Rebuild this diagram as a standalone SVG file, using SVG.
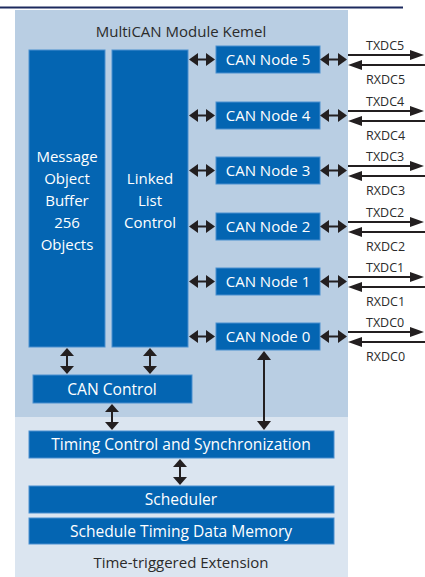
<svg xmlns="http://www.w3.org/2000/svg" width="425" height="577" viewBox="0 0 425 577">
<style>
.box{fill:#0465b2;stroke:#4a8fcf;stroke-width:1}
.wt{fill:#ffffff;font-family:"Open Sans",sans-serif;font-size:15px;text-anchor:middle}
.wl{font-size:15.6px}
.gt{fill:#2b2b2b;font-family:"Open Sans",sans-serif;font-size:15px;text-anchor:middle}
.sig{fill:#2b2b2b;font-family:"Open Sans",sans-serif;font-size:12.5px}
.ln{stroke:#231f20;stroke-width:2;fill:none}
.hd{fill:#231f20}
</style>
<rect x="0" y="0" width="425" height="577" fill="#ffffff"/>
<line x1="0" y1="7.5" x2="403" y2="7.5" stroke="#1c2a5e" stroke-width="2"/>
<rect x="15" y="10" width="333" height="407" fill="#b9cee3"/>
<rect x="15" y="417" width="333" height="160" fill="#dbe5f0"/>
<text class="gt" x="181" y="37">MultiCAN Module Kemel</text>
<text class="gt" x="181" y="568">Time-triggered Extension</text>

<g id="mob"><rect class="box" x="29" y="50" width="76" height="297"/>
<text class="wt" x="67" y="162">Message</text><text class="wt" x="67" y="184">Object</text><text class="wt" x="67" y="206">Buffer</text><text class="wt" x="67" y="228">256</text><text class="wt" x="67" y="250">Objects</text></g>
<g id="llc"><rect class="box" x="112" y="50" width="76" height="297"/>
<text class="wt" x="150" y="184">Linked</text><text class="wt" x="150" y="206">List</text><text class="wt" x="150" y="228">Control</text></g>
<g id="node5"><rect class="box" x="216" y="46" width="104" height="27"/><text class="wt" x="268" y="65">CAN Node 5</text></g>
<g id="node4"><rect class="box" x="216" y="102" width="104" height="27"/><text class="wt" x="268" y="121">CAN Node 4</text></g>
<g id="node3"><rect class="box" x="216" y="157" width="104" height="27"/><text class="wt" x="268" y="176">CAN Node 3</text></g>
<g id="node2"><rect class="box" x="216" y="213" width="104" height="27"/><text class="wt" x="268" y="232">CAN Node 2</text></g>
<g id="node1"><rect class="box" x="216" y="268" width="104" height="27"/><text class="wt" x="268" y="287">CAN Node 1</text></g>
<g id="node0"><rect class="box" x="216" y="323" width="104" height="27"/><text class="wt" x="268" y="342">CAN Node 0</text></g>
<g id="cancontrol"><rect class="box" x="33" y="375" width="159" height="28"/><text class="wt wl" x="112" y="395">CAN Control</text></g>
<g id="timing"><rect class="box" x="29" y="431" width="305" height="27"/><text class="wt wl" x="181" y="450">Timing Control and Synchronization</text></g>
<g id="scheduler"><rect class="box" x="29" y="486" width="305" height="27"/><text class="wt wl" x="181" y="505">Scheduler</text></g>
<g id="stdm"><rect class="box" x="29" y="518" width="305" height="26"/><text class="wt wl" x="181" y="537">Schedule Timing Data Memory</text></g>

<g id="connectors">
<g id="h5"><line class="ln" x1="196" y1="59.5" x2="208" y2="59.5"/><polygon class="hd" points="189,59.5 198,53 198,66"/><polygon class="hd" points="215,59.5 206,53 206,66"/>
<line class="ln" x1="327" y1="59.5" x2="340" y2="59.5"/><polygon class="hd" points="320,59.5 329,53 329,66"/><polygon class="hd" points="347,59.5 338,53 338,66"/></g>
<g id="h4"><line class="ln" x1="196" y1="115.5" x2="208" y2="115.5"/><polygon class="hd" points="189,115.5 198,109 198,122"/><polygon class="hd" points="215,115.5 206,109 206,122"/>
<line class="ln" x1="327" y1="115.5" x2="340" y2="115.5"/><polygon class="hd" points="320,115.5 329,109 329,122"/><polygon class="hd" points="347,115.5 338,109 338,122"/></g>
<g id="h3"><line class="ln" x1="196" y1="170.5" x2="208" y2="170.5"/><polygon class="hd" points="189,170.5 198,164 198,177"/><polygon class="hd" points="215,170.5 206,164 206,177"/>
<line class="ln" x1="327" y1="170.5" x2="340" y2="170.5"/><polygon class="hd" points="320,170.5 329,164 329,177"/><polygon class="hd" points="347,170.5 338,164 338,177"/></g>
<g id="h2"><line class="ln" x1="196" y1="226.5" x2="208" y2="226.5"/><polygon class="hd" points="189,226.5 198,220 198,233"/><polygon class="hd" points="215,226.5 206,220 206,233"/>
<line class="ln" x1="327" y1="226.5" x2="340" y2="226.5"/><polygon class="hd" points="320,226.5 329,220 329,233"/><polygon class="hd" points="347,226.5 338,220 338,233"/></g>
<g id="h1"><line class="ln" x1="196" y1="281.5" x2="208" y2="281.5"/><polygon class="hd" points="189,281.5 198,275 198,288"/><polygon class="hd" points="215,281.5 206,275 206,288"/>
<line class="ln" x1="327" y1="281.5" x2="340" y2="281.5"/><polygon class="hd" points="320,281.5 329,275 329,288"/><polygon class="hd" points="347,281.5 338,275 338,288"/></g>
<g id="h0"><line class="ln" x1="196" y1="336.5" x2="208" y2="336.5"/><polygon class="hd" points="189,336.5 198,330 198,343"/><polygon class="hd" points="215,336.5 206,330 206,343"/>
<line class="ln" x1="327" y1="336.5" x2="340" y2="336.5"/><polygon class="hd" points="320,336.5 329,330 329,343"/><polygon class="hd" points="347,336.5 338,330 338,343"/></g>

<g id="io5"><line class="ln" x1="348" y1="55" x2="412" y2="55"/><polygon class="hd" points="424,55 410,50 410,60"/><line class="ln" x1="360" y1="65" x2="425" y2="65"/><polygon class="hd" points="348,65 362,60 362,70"/></g>
<g id="io4"><line class="ln" x1="348" y1="111" x2="412" y2="111"/><polygon class="hd" points="424,111 410,106 410,116"/><line class="ln" x1="360" y1="121" x2="425" y2="121"/><polygon class="hd" points="348,121 362,116 362,126"/></g>
<g id="io3"><line class="ln" x1="348" y1="166" x2="412" y2="166"/><polygon class="hd" points="424,166 410,161 410,171"/><line class="ln" x1="360" y1="176" x2="425" y2="176"/><polygon class="hd" points="348,176 362,171 362,181"/></g>
<g id="io2"><line class="ln" x1="348" y1="222" x2="412" y2="222"/><polygon class="hd" points="424,222 410,217 410,227"/><line class="ln" x1="360" y1="232" x2="425" y2="232"/><polygon class="hd" points="348,232 362,227 362,237"/></g>
<g id="io1"><line class="ln" x1="348" y1="277" x2="412" y2="277"/><polygon class="hd" points="424,277 410,272 410,282"/><line class="ln" x1="360" y1="287" x2="425" y2="287"/><polygon class="hd" points="348,287 362,282 362,292"/></g>
<g id="io0"><line class="ln" x1="348" y1="332" x2="412" y2="332"/><polygon class="hd" points="424,332 410,327 410,337"/><line class="ln" x1="360" y1="342" x2="425" y2="342"/><polygon class="hd" points="348,342 362,337 362,347"/></g>

<g id="v1"><line class="ln" x1="67" y1="355" x2="67" y2="367"/><polygon class="hd" points="67,348 60,356 74,356"/><polygon class="hd" points="67,374 60,366 74,366"/></g>
<g id="v2"><line class="ln" x1="150" y1="355" x2="150" y2="367"/><polygon class="hd" points="150,348 143,356 157,356"/><polygon class="hd" points="150,374 143,366 157,366"/></g>
<g id="v3"><line class="ln" x1="112" y1="411" x2="112" y2="423"/><polygon class="hd" points="112,404 105,412 119,412"/><polygon class="hd" points="112,430 105,422 119,422"/></g>
<g id="v4"><line class="ln" x1="264" y1="359" x2="264" y2="422"/><polygon class="hd" points="264,351 257,360 271,360"/><polygon class="hd" points="264,430 257,421 271,421"/></g>
<g id="v5"><line class="ln" x1="180" y1="466" x2="180" y2="478"/><polygon class="hd" points="180,459 173,467 187,467"/><polygon class="hd" points="180,485 173,477 187,477"/></g>
</g>

<g id="labels">
<text class="sig" x="366" y="50">TXDC5</text><text class="sig" x="366" y="84">RXDC5</text>
<text class="sig" x="366" y="106">TXDC4</text><text class="sig" x="366" y="140">RXDC4</text>
<text class="sig" x="366" y="161">TXDC3</text><text class="sig" x="366" y="195">RXDC3</text>
<text class="sig" x="366" y="217">TXDC2</text><text class="sig" x="366" y="251">RXDC2</text>
<text class="sig" x="366" y="272">TXDC1</text><text class="sig" x="366" y="306">RXDC1</text>
<text class="sig" x="366" y="327">TXDC0</text><text class="sig" x="366" y="361">RXDC0</text>
</g>
</svg>
